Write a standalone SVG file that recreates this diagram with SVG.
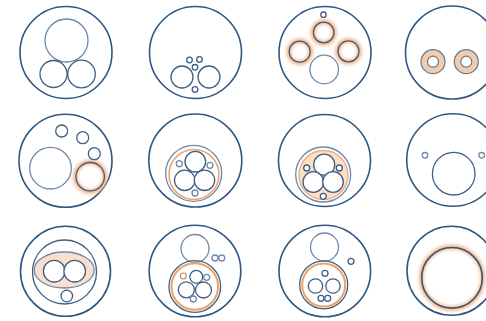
<svg xmlns="http://www.w3.org/2000/svg" width="486" height="321" viewBox="0 0 486 321">
<style>
circle,ellipse{fill:none}
.o{stroke:#2f5781;stroke-width:1.6}
.i{stroke:#3f5f84;stroke-width:1.3}
.g{stroke:#6e8aa8;stroke-width:1.3}
.w{fill:#fff}
.glow{stroke:#f7bb8e;stroke-width:5;filter:url(#blur)}
.or{stroke:#eea470;stroke-width:1.6}
.donut{fill:#f6cba8;stroke:#5d7a98;stroke-width:1.2}
.hole{fill:#fff;stroke:#5d7a98;stroke-width:1.2}
.disk{fill:#fbe0c9;stroke:#eeae82;stroke-width:1.4}
.ell{fill:#fae0cc;stroke:#6e8aa8;stroke-width:1.3}
.ring{stroke:#eea266;stroke-width:2}
.os{stroke:#c98d6a;stroke-width:1.2}
</style>
<defs>
<filter id="blur" x="-30%" y="-30%" width="160%" height="160%"><feGaussianBlur stdDeviation="1.6"/></filter>
</defs>
<rect width="486" height="321" fill="#fff"/>
<g id="c1">
<circle class="o" cx="66" cy="52.5" r="46"/>
<circle class="g" cx="66.5" cy="40.5" r="21.5"/>
<circle class="i" cx="53.5" cy="74" r="13.5"/>
<circle class="i" cx="81.5" cy="74" r="13.8"/>
</g>
<g id="c2">
<circle class="o" cx="195.5" cy="52.5" r="46"/>
<circle class="i" cx="182" cy="77" r="11"/>
<circle class="i" cx="209" cy="77" r="11"/>
<circle class="i" cx="189.5" cy="60" r="2.8"/>
<circle class="i" cx="199.5" cy="59.5" r="2.8"/>
<circle class="i" cx="195" cy="67.3" r="2.8"/>
<circle class="i" cx="195" cy="89.5" r="2.8"/>
</g>
<g id="c3">
<circle class="o" cx="325" cy="52.5" r="46"/>
<circle class="i" cx="323.5" cy="14.7" r="2.7"/>
<circle class="glow" cx="323.7" cy="32.5" r="10.8"/>
<circle class="i" cx="323.7" cy="32.5" r="10.3"/>
<circle class="glow" cx="299.7" cy="51.7" r="11"/>
<circle class="i" cx="299.7" cy="51.7" r="10.5"/>
<circle class="glow" cx="348.5" cy="51.3" r="11"/>
<circle class="i" cx="348.5" cy="51.3" r="10.5"/>
<circle class="g" cx="324.2" cy="69.5" r="14.3"/>
</g>
<g id="c4">
<circle class="o" cx="452" cy="52.5" r="46.5"/>
<circle class="donut" cx="433" cy="61.7" r="12"/>
<circle class="hole" cx="433" cy="61.7" r="5.5"/>
<circle class="donut" cx="466.3" cy="61.7" r="12"/>
<circle class="hole" cx="466.3" cy="61.7" r="5.5"/>
</g>
<g id="c5">
<circle class="o" cx="65.5" cy="160.7" r="46.5"/>
<circle class="g" cx="50.5" cy="168.2" r="20.8"/>
<circle class="glow" cx="90.2" cy="176.7" r="14.8"/>
<circle class="i" cx="90.2" cy="176.7" r="14.2"/>
<circle class="i" cx="61.7" cy="131" r="6"/>
<circle class="i" cx="82.7" cy="137.7" r="6"/>
<circle class="i" cx="94.3" cy="153.7" r="6"/>
</g>
<g id="c6">
<circle class="o" cx="195.3" cy="160.5" r="46.5"/>
<circle class="g" cx="193.7" cy="173.3" r="28"/>
<circle class="or" cx="194" cy="174.5" r="25"/>
<circle class="i w" cx="195.3" cy="161.7" r="10.3"/>
<circle class="i w" cx="184.7" cy="180.3" r="10.2"/>
<circle class="i w" cx="204.5" cy="180.3" r="10.2"/>
<circle class="g" cx="179.3" cy="163.7" r="3"/>
<circle class="g" cx="210" cy="165.3" r="3"/>
<circle class="g" cx="195" cy="193" r="3"/>
</g>
<g id="c7">
<circle class="o" cx="324.5" cy="160.5" r="46"/>
<circle class="g" cx="323.2" cy="174.5" r="27.5"/>
<circle class="disk" cx="323.5" cy="175" r="24.5"/>
<circle class="i w" cx="324.2" cy="164.7" r="10.5"/>
<circle class="i w" cx="313.3" cy="182" r="10.3"/>
<circle class="i w" cx="333" cy="182" r="10.3"/>
<circle class="i w" cx="306.7" cy="168" r="3"/>
<circle class="i w" cx="339.3" cy="168" r="3"/>
<circle class="i w" cx="323.3" cy="196.3" r="3"/>
</g>
<g id="c8">
<circle class="o" cx="453" cy="160" r="46.3"/>
<circle class="i" cx="453.7" cy="173.7" r="21.3"/>
<circle class="g" cx="425" cy="155.3" r="2.8"/>
<circle class="g" cx="481.7" cy="155.3" r="2.8"/>
</g>
<g id="c9">
<circle class="o" cx="65.5" cy="271.3" r="45"/>
<circle class="i" cx="64.5" cy="272" r="32"/>
<ellipse class="ell" cx="64.2" cy="270" rx="30" ry="18"/>
<circle class="i w" cx="54.2" cy="271.2" r="10.8"/>
<circle class="i w" cx="74.7" cy="271.2" r="10.8"/>
<circle class="i" cx="66.8" cy="296" r="5.8"/>
</g>
<g id="c10">
<circle class="o" cx="195" cy="271" r="45.8"/>
<circle class="g" cx="195" cy="248.5" r="14"/>
<circle class="g" cx="215" cy="258" r="3"/>
<circle class="g" cx="221.7" cy="258" r="3"/>
<circle class="i" cx="194.8" cy="286.5" r="25.8"/>
<circle class="ring" cx="194.8" cy="286.5" r="23.3"/>
<circle class="i" cx="196.3" cy="276.8" r="6.5"/>
<circle class="i" cx="186.3" cy="289.8" r="8"/>
<circle class="i" cx="203.5" cy="290" r="8"/>
<circle class="os" cx="183.3" cy="276" r="3"/>
<circle class="g" cx="206.7" cy="277.3" r="3"/>
<circle class="g" cx="193.3" cy="299" r="3"/>
</g>
<g id="c11">
<circle class="o" cx="324.8" cy="271" r="45.8"/>
<circle class="g" cx="324.5" cy="247" r="14"/>
<circle class="i" cx="351" cy="261.3" r="3"/>
<circle class="i" cx="323.7" cy="284.8" r="24"/>
<circle class="ring" cx="323.7" cy="285" r="21.5"/>
<circle class="i" cx="325" cy="273.3" r="3"/>
<circle class="i" cx="315.5" cy="286" r="7.2"/>
<circle class="i" cx="333" cy="286" r="7.2"/>
<circle class="i" cx="321" cy="298.3" r="3"/>
<circle class="i" cx="327.7" cy="298.3" r="3"/>
</g>
<g id="c12">
<circle class="o" cx="451.5" cy="270.7" r="44.5"/>
<circle class="glow" cx="452" cy="277.8" r="30.8"/>
<circle class="o" cx="452" cy="277.8" r="30.3"/>
</g>
</svg>
